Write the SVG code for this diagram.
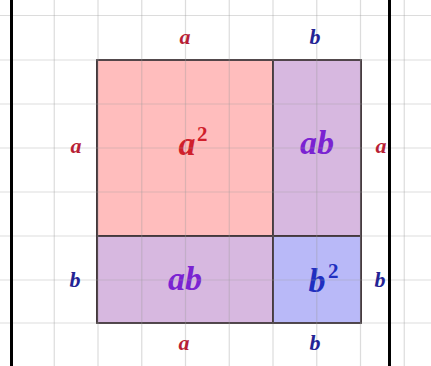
<svg xmlns="http://www.w3.org/2000/svg" width="431" height="366" viewBox="0 0 431 366">
<style>
.grid line{stroke:#9a9a9a;stroke-opacity:0.35;stroke-width:1.2}
.cell{stroke:#302428;stroke-width:1.8}
.lbl{font-family:"Liberation Serif","DejaVu Serif",serif;font-style:italic;font-weight:bold;text-anchor:middle}
.sm{font-size:22px}
.big{font-size:34px}
.sup{font-family:"Liberation Serif","DejaVu Serif",serif;font-weight:bold;font-size:21px}
.ca{fill:#b81e36}
.cb{fill:#232394}
.cab{fill:#7a22d2}
.border{stroke:#000;stroke-width:3}
</style>
<rect width="431" height="366" fill="#ffffff"/>
<g id="sq-a2"><rect class="cell" x="97" y="60" width="176" height="176" fill="#ffbdbd"/>
<text class="lbl big" x="187" y="155" fill="#d01f2c">a</text><text class="sup" x="197" y="141" fill="#d01f2c">2</text></g>
<g id="rect-ab-top"><rect class="cell" x="273" y="60" width="88" height="176" fill="#d7b8e0"/>
<text class="lbl big cab" x="317" y="154">ab</text></g>
<g id="rect-ab-bottom"><rect class="cell" x="97" y="236" width="176" height="87" fill="#d7b8e0"/>
<text class="lbl big cab" x="185" y="290">ab</text></g>
<g id="sq-b2"><rect class="cell" x="273" y="236" width="88" height="87" fill="#b9b9f8"/>
<text class="lbl big" x="317" y="292" fill="#1f2fc0">b</text><text class="sup" x="328" y="278" fill="#1f2fc0">2</text></g>
<g class="grid">
<line x1="54.25" y1="0" x2="54.25" y2="366"/><line x1="98" y1="0" x2="98" y2="366"/><line x1="141.75" y1="0" x2="141.75" y2="366"/><line x1="185.5" y1="0" x2="185.5" y2="366"/><line x1="229.25" y1="0" x2="229.25" y2="366"/><line x1="273" y1="0" x2="273" y2="366"/><line x1="316.75" y1="0" x2="316.75" y2="366"/><line x1="360.5" y1="0" x2="360.5" y2="366"/><line x1="404.25" y1="0" x2="404.25" y2="366"/>
<line x1="0" y1="15.5" x2="431" y2="15.5"/><line x1="0" y1="60" x2="431" y2="60"/><line x1="0" y1="104" x2="431" y2="104"/><line x1="0" y1="148" x2="431" y2="148"/><line x1="0" y1="192" x2="431" y2="192"/><line x1="0" y1="236" x2="431" y2="236"/><line x1="0" y1="280" x2="431" y2="280"/><line x1="0" y1="323" x2="431" y2="323"/>
</g>
<g id="labels">
<text class="lbl sm ca" x="185" y="44">a</text>
<text class="lbl sm cb" x="315" y="44">b</text>
<text class="lbl sm ca" x="76" y="153">a</text>
<text class="lbl sm ca" x="381" y="153">a</text>
<text class="lbl sm cb" x="75" y="287">b</text>
<text class="lbl sm cb" x="380" y="287">b</text>
<text class="lbl sm ca" x="184" y="350">a</text>
<text class="lbl sm cb" x="315" y="350">b</text>
</g>
<g id="borders"><line class="border" x1="11.5" y1="0" x2="11.5" y2="366"/><line class="border" x1="389.5" y1="0" x2="389.5" y2="366"/></g>
</svg>
